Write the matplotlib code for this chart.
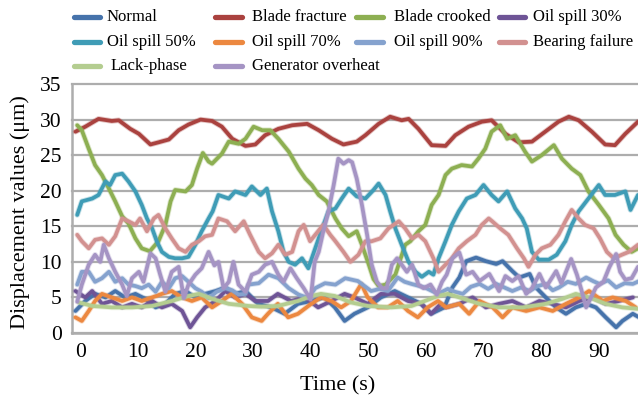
import matplotlib
matplotlib.use('Agg')
import matplotlib.pyplot as plt
from matplotlib.lines import Line2D
import matplotlib.patheffects as pe

plt.rcParams['font.family'] = ['Liberation Serif', 'DejaVu Serif']

# ---------------- data (time s, displacement um) ----------------
normal = [(-0.8,3.1),(0.9,4.5),(2.6,5.5),(4.4,5.0),(6.1,5.9),(7.8,5.0),(9.6,5.5),(11.3,4.8),(13.1,3.6),
          (14.8,4.1),(16.5,5.5),(18.3,5.9),(20.0,5.0),(21.7,5.5),(23.5,5.9),(25.2,6.4),(26.9,5.5),(28.7,5.9),
          (30.9,4.1),(33.2,3.6),(35.5,2.7),(37.8,4.1),(40.1,4.5),(42.4,5.0),(44.2,3.6),(45.9,1.7),(47.6,2.7),
          (49.9,3.6),(52.2,5.0),(54.6,5.9),(56.9,5.0),(59.2,4.1),(60.9,2.7),(63.2,3.6),(64.6,6.4),(65.8,7.8),
          (67.0,10.1),(68.7,10.6),(70.4,10.1),(72.2,9.7),(73.3,10.1),(75.0,8.7),(76.2,7.8),(78.0,8.3),(79.1,6.4),
          (80.8,5.0),(82.6,3.6),(84.3,2.7),(86.0,3.6),(87.8,4.1),(89.5,3.6),(91.2,2.2),(93.0,0.8),(94.1,1.7),
          (95.9,2.7),(97.0,2.2)]

blade_fracture = [(-0.8,28.3),(0.9,29.0),(3.2,30.1),(5.5,29.8),(6.7,29.9),(8.7,28.7),(10.2,28.0),(12.2,26.5),
                  (13.6,26.8),(15.4,27.2),(17.1,28.5),(18.8,29.3),(20.9,30.0),(22.9,29.8),(24.6,29.0),(26.4,27.3),
                  (28.7,26.3),(30.4,26.5),(32.1,27.8),(34.4,28.7),(36.8,29.2),(39.4,29.4),(41.4,28.5),(43.7,27.3),
                  (45.7,26.5),(48.0,26.9),(49.5,27.8),(51.8,29.4),(53.8,30.4),(55.8,29.9),(57.0,30.1),(58.7,28.7),
                  (61.0,26.4),(63.4,26.3),(65.1,27.8),(67.4,29.0),(69.7,29.7),(71.4,29.9),(73.8,28.0),(76.1,26.8),
                  (78.4,26.9),(80.7,28.3),(83.0,29.7),(84.8,30.4),(86.5,29.9),(88.8,28.3),(91.1,26.5),(92.8,26.4),
                  (94.6,28.0),(96.8,29.7)]

blade_crooked = [(-0.5,29.2),(0.3,28.5),(1.5,25.9),(2.6,23.6),(3.8,22.2),(5.0,20.3),(6.1,18.5),(7.3,16.4),
                 (8.4,15.4),(9.6,13.3),(10.7,11.9),(12.1,11.5),(13.6,12.9),(14.8,15.2),(15.7,18.5),(16.5,20.1),
                 (18.3,19.9),(19.4,20.8),(20.3,23.1),(21.3,25.3),(22.3,24.1),(22.9,23.8),(24.6,25.2),(25.8,26.9),
                 (27.5,26.6),(28.7,27.3),(30.1,29.0),(31.6,28.5),(33.0,28.5),(34.4,27.3),(36.2,25.5),(37.9,23.1),
                 (39.1,21.7),(40.2,20.8),(41.4,19.4),(42.8,18.5),(44.3,16.1),(45.4,14.7),(46.6,13.6),(48.0,14.3),
                 (48.9,12.4),(50.1,9.6),(50.9,7.6),(51.8,6.6),(53.0,6.8),(54.7,8.2),(56.4,12.4),(57.3,12.9),
                 (58.7,14.3),(59.9,15.2),(61.0,18.0),(62.2,19.4),(63.4,22.2),(64.5,23.1),(66.2,23.6),(68.0,23.4),
                 (69.1,24.5),(70.3,25.9),(71.4,28.3),(72.9,29.2),(74.1,27.3),(75.5,27.8),(77.2,25.5),(78.4,24.1),
                 (80.1,25.0),(82.2,26.4),(83.6,24.5),(85.3,23.1),(86.8,22.2),(88.2,19.9),(90.0,18.0),(91.7,16.1),
                 (92.9,13.8),(94.3,12.4),(95.7,11.4),(96.8,11.9)]

oil_spill_30 = [(-0.8,5.9),(0.9,5.0),(2.1,5.9),(3.8,4.1),(5.5,4.5),(7.3,3.6),(9.0,4.1),(10.7,3.6),(12.5,4.5),
                (14.2,3.6),(15.9,4.1),(17.7,3.1),(19.1,0.8),(20.3,2.2),(21.7,3.6),(23.5,4.5),(25.2,5.9),(26.9,5.0),
                (28.7,5.5),(30.4,4.5),(32.6,4.5),(34.3,5.5),(36.6,4.5),(39.0,5.0),(41.3,3.6),(43.6,4.5),(45.9,5.5),
                (47.6,5.0),(49.9,4.1),(52.2,5.5),(54.6,5.5),(56.9,4.5),(59.2,4.1),(60.9,2.7),(62.6,4.1),(63.5,3.6),
                (65.8,4.1),(68.1,5.0),(70.4,3.6),(72.7,4.1),(75.0,4.5),(77.4,3.6),(79.7,4.5),(82.0,4.1),(84.3,3.6),
                (86.6,4.5),(88.9,5.0),(91.2,4.1),(93.5,4.5),(95.9,5.0)]

oil_spill_50 = [(-0.5,16.6),(0.3,18.5),(2.1,18.9),(3.2,19.4),(4.4,21.3),(5.2,20.8),(6.1,22.2),(7.3,22.4),
                (8.4,21.3),(9.6,19.9),(10.7,18.0),(11.6,16.1),(12.5,14.7),(13.3,12.9),(14.2,11.4),(15.4,10.7),
                (16.5,10.5),(17.7,10.5),(18.8,10.7),(20.0,12.4),(21.1,14.3),(22.3,16.1),(23.0,17.1),(24.0,19.4),
                (25.8,18.9),(26.9,19.9),(28.7,19.4),(29.8,20.6),(31.3,19.4),(32.4,20.3),(33.3,17.1),(34.4,14.3),
                (35.3,11.4),(36.2,10.0),(37.3,9.6),(38.5,10.5),(39.6,9.1),(40.8,11.9),(42.0,14.7),(43.1,17.1),
                (44.3,17.5),(45.4,18.9),(46.6,20.3),(48.0,19.2),(49.5,18.9),(50.9,20.1),(51.8,21.0),(53.0,19.4),
                (53.8,17.1),(54.7,14.7),(55.8,12.4),(57.0,10.0),(58.2,8.6),(59.3,7.9),(60.5,8.6),(61.3,8.2),
                (62.2,10.5),(63.4,12.9),(64.5,15.2),(65.7,17.1),(67.1,18.9),(68.6,19.4),(70.0,20.8),(71.4,19.4),
                (72.6,18.5),(74.1,19.9),(75.5,17.5),(76.7,16.1),(77.5,14.7),(78.4,11.4),(79.6,10.3),(81.3,10.3),
                (82.7,11.0),(84.2,12.9),(85.3,15.2),(86.5,17.1),(88.2,18.9),(90.0,20.8),(91.1,19.4),(92.8,19.4),
                (94.6,19.9),(95.5,17.3),(96.8,19.4)]

oil_spill_70 = [(-0.8,2.2),(0.3,1.7),(1.5,3.1),(2.6,4.5),(3.8,5.5),(5.5,5.0),(7.3,4.5),(9.0,5.0),(10.7,4.5),
                (12.5,5.0),(14.2,5.5),(15.9,5.9),(17.7,5.0),(19.4,4.5),(21.1,5.0),(22.9,3.6),(24.6,4.5),(26.3,5.5),
                (28.1,4.1),(29.8,2.2),(31.5,1.7),(32.6,2.7),(34.3,4.1),(36.1,2.2),(37.8,2.7),(40.1,4.1),(41.8,5.0),
                (43.6,4.5),(45.3,3.6),(47.0,4.5),(48.8,6.9),(49.9,5.0),(51.7,3.6),(53.4,3.6),(55.1,4.5),(56.9,3.1),
                (58.6,2.2),(60.3,3.6),(62.1,4.5),(63.5,3.6),(65.8,4.1),(67.5,2.7),(69.3,4.5),(71.6,3.6),(73.3,2.2),
                (75.0,3.6),(77.4,3.1),(79.7,3.6),(82.0,3.1),(84.3,4.1),(86.6,5.0),(88.3,5.9),(90.7,4.5),(92.4,5.0),
                (94.7,4.5),(96.4,3.6)]

oil_spill_90 = [(-0.5,6.8),(0.3,8.6),(1.5,8.6),(2.6,7.2),(3.8,7.7),(5.0,8.6),(6.1,7.2),(7.3,7.7),(8.4,6.8),
                (9.6,6.6),(10.7,6.3),(11.9,6.8),(13.1,5.8),(14.2,7.2),(15.4,6.3),(16.5,7.7),(17.7,8.0),(18.8,7.2),
                (20.0,6.3),(21.1,5.8),(22.3,4.9),(23.7,5.8),(25.2,6.3),(26.4,6.0),(27.5,5.4),(28.7,5.5),(29.2,6.8),
                (31.0,7.0),(32.7,8.2),(34.4,7.7),(36.2,6.3),(37.9,5.4),(39.6,4.9),(40.8,6.3),(42.5,7.0),(44.3,6.8),
                (46.0,7.7),(48.2,7.3),(50.5,5.9),(52.0,6.2),(53.4,5.9),(55.1,7.8),(56.3,7.2),(57.5,6.9),(59.8,6.4),
                (62.1,5.5),(63.8,6.2),(65.0,5.8),(66.4,5.5),(67.8,6.5),(69.3,6.9),(70.8,6.2),(72.2,6.9),(73.6,6.4),
                (75.0,5.9),(76.5,6.4),(78.0,5.9),(79.4,6.6),(80.8,6.9),(82.0,6.0),(83.1,6.4),(84.6,7.2),(86.0,6.9),
                (87.8,7.8),(89.0,7.3),(90.1,6.9),(91.6,7.4),(93.0,6.4),(94.5,7.0),(95.9,6.9),(97.0,7.3)]

bearing_failure = [(-0.5,13.8),(0.3,12.9),(1.5,11.9),(2.6,13.1),(3.8,13.3),(5.0,12.4),(6.1,13.6),(7.3,16.1),
                   (8.4,15.7),(9.6,15.2),(10.4,16.1),(11.6,14.3),(12.8,16.1),(13.6,16.6),(14.8,14.7),(15.9,13.3),
                   (17.1,11.9),(18.3,11.4),(19.4,12.4),(20.6,12.9),(21.7,13.6),(22.9,13.8),(24.0,16.1),(25.5,15.7),
                   (26.9,14.3),(28.4,15.7),(29.5,13.8),(31.0,11.4),(32.1,10.5),(33.3,11.2),(34.4,12.4),(35.6,11.0),
                   (36.8,11.4),(37.9,14.3),(38.8,15.2),(39.9,12.9),(40.8,13.8),(42.2,15.2),(43.4,13.8),(44.3,12.9),
                   (45.7,11.4),(46.9,10.0),(48.3,11.0),(49.5,12.9),(50.6,12.9),(52.1,13.3),(53.5,14.7),(55.3,15.7),
                   (56.4,14.7),(57.6,13.3),(58.7,13.8),(59.9,12.9),(61.3,10.5),(62.2,8.6),(63.4,9.6),(64.5,10.5),
                   (65.7,11.9),(67.1,12.9),(68.6,13.8),(69.7,15.2),(70.9,16.1),(71.5,15.7),(72.9,14.7),(74.3,13.8),
                   (75.8,11.9),(77.0,10.5),(77.8,9.3),(79.0,11.0),(80.1,11.9),(81.6,12.4),(83.0,13.8),(84.2,15.7),
                   (85.3,17.3),(86.5,16.1),(87.6,15.2),(89.1,14.7),(90.2,13.3),(91.4,11.4),(92.6,10.5),(94.0,11.0),
                   (95.2,11.4),(96.8,12.4)]

lack_phase = [(-0.2,4.3),(2.1,3.8),(5.5,3.6),(9.0,3.6),(12.5,3.8),(15.9,4.5),(18.8,5.2),(20.6,5.5),(22.9,4.8),
              (25.8,4.1),(29.2,3.8),(31.5,3.7),(34.3,3.8),(37.8,4.5),(40.1,5.2),(41.8,5.5),(44.2,5.2),(47.0,4.3),
              (49.9,3.8),(54.0,3.6),(57.5,3.8),(59.8,4.5),(62.1,5.2),(63.8,5.5),(65.8,5.0),(69.3,4.1),(72.7,3.6),
              (76.8,3.6),(80.8,4.1),(83.7,4.8),(86.0,5.5),(88.3,5.0),(91.2,4.1),(94.1,3.6),(96.7,3.4)]

generator_overheat = [(-0.5,4.4),(0.3,6.8),(1.5,9.6),(2.6,11.0),(3.5,10.0),(4.1,12.4),(5.0,10.5),(6.1,8.6),
                      (7.3,6.8),(8.1,5.2),(9.0,7.7),(10.2,8.6),(11.0,7.2),(12.2,11.2),(13.1,10.5),(13.9,8.2),
                      (14.8,5.8),(15.9,8.6),(17.1,9.3),(18.0,4.9),(18.8,6.8),(20.0,8.2),(21.1,9.1),(22.3,11.4),
                      (23.3,9.5),(24.0,10.0),(24.9,6.3),(25.8,7.2),(26.6,10.0),(27.5,6.8),(28.7,5.8),(29.8,8.2),
                      (31.0,8.6),(32.1,9.6),(33.3,10.0),(34.4,8.2),(35.3,7.2),(36.5,9.1),(37.6,7.7),(38.8,6.3),
                      (40.0,4.7),(40.7,10.0),(41.4,11.4),(42.2,14.3),(43.1,17.1),(44.0,20.8),(44.8,24.5),(45.7,23.8),
                      (46.6,24.3),(47.2,24.0),(48.0,21.7),(48.9,18.0),(49.8,13.8),(50.6,9.6),(51.5,7.2),(52.4,6.3),
                      (53.2,6.3),(54.1,9.6),(55.0,10.5),(55.8,9.6),(56.7,8.6),(57.6,9.6),(58.7,6.8),(59.6,6.3),
                      (60.8,6.8),(61.9,5.4),(62.8,7.2),(63.6,8.2),(64.6,10.5),(65.8,11.3),(67.0,8.2),(68.1,8.6),
                      (69.3,7.3),(71.0,8.3),(72.7,5.9),(73.8,8.0),(75.0,7.3),(76.1,8.0),(77.4,5.5),(78.4,6.3),
                      (79.7,8.3),(80.8,6.4),(82.6,8.7),(83.5,7.0),(85.2,10.4),(86.2,8.2),(87.0,6.0),(87.8,3.6),
                      (89.5,6.4),(90.8,7.2),(91.8,9.2),(93.0,11.1),(93.7,8.6),(94.6,7.5),(95.7,7.7),(96.8,9.3)]

series_names = ["Normal", "Blade fracture", "Blade crooked", "Oil spill 30%", "Oil spill 50%",
                "Oil spill 70%", "Oil spill 90%", "Bearing failure", "Lack-phase", "Generator overheat"]
series_data = [normal, blade_fracture, blade_crooked, oil_spill_30, oil_spill_50,
               oil_spill_70, oil_spill_90, bearing_failure, lack_phase, generator_overheat]
colors = ["#4673AB", "#AA423F", "#8DAF52", "#6E5496", "#3F9CB6",
          "#EC8840", "#85A2CE", "#D29190", "#B4CD90", "#A594C4"]

x_ticks = [0, 10, 20, 30, 40, 50, 60, 70, 80, 90]
y_ticks = [0, 5, 10, 15, 20, 25, 30, 35]

# ---------------- figure ----------------
W, H = 638, 401
fig = plt.figure(figsize=(W / 100, H / 100), dpi=100)
ax = fig.add_axes([71.5 / W, (H - 333) / H, (W - 71.5) / W, (333 - 84) / H])

grid_c = "#ADADAD"
for i, (name, data, c) in enumerate(zip(series_names, series_data, colors)):
    xs = [p[0] for p in data]
    ys = [p[1] for p in data]
    ax.plot(xs, ys, color=c, lw=2.7, solid_joinstyle='round', solid_capstyle='round', zorder=3 + i * 0.01,
            path_effects=[pe.Stroke(linewidth=4.0, foreground=c, alpha=0.3), pe.Normal()])

ax.set_xlim(-1.49, 96.8)
ax.set_ylim(0, 35)
ax.set_xticks(x_ticks)
ax.set_yticks(y_ticks)
ax.tick_params(axis='both', length=0, labelsize=15.5, colors='#000000')
ax.tick_params(axis='x', pad=7)
ax.tick_params(axis='y', pad=7)
ax.yaxis.grid(True, color=grid_c, lw=1.6)
ax.xaxis.grid(False)
ax.set_axisbelow(True)
for gl in ax.get_ygridlines():
    gl.set_clip_on(False)
for s in ['top', 'right']:
    ax.spines[s].set_visible(False)
for s in ['left', 'bottom']:
    ax.spines[s].set_color(grid_c)
    ax.spines[s].set_linewidth(1.8)

fig.text(20 / W, 1 - 212 / H, "Displacement values (μm)", rotation=90, ha='center', va='center', fontsize=16)
fig.text(338 / W, 1 - 386 / H, "Time (s)", ha='center', va='center', fontsize=16)

# ---------------- legend (manual, Excel-like layout) ----------------
cols = [(74, 100, 107), (215, 242, 252), (356, 383, 394), (499, 525, 533)]
rows = [17, 42, 66]
for i, (name, c) in enumerate(zip(series_names, colors)):
    r, k = divmod(i, 4)
    x0, x1, xt = cols[k]
    if i == 8:
        xt += 4
    y = 1 - rows[r] / H
    fig.add_artist(Line2D([x0 / W, x1 / W], [y, y], transform=fig.transFigure, color=c, lw=3.8,
                          solid_capstyle='round'))
    fig.text(xt / W, y, name, ha='left', va='center', fontsize=12)

fig.savefig("out.png", dpi=100)
